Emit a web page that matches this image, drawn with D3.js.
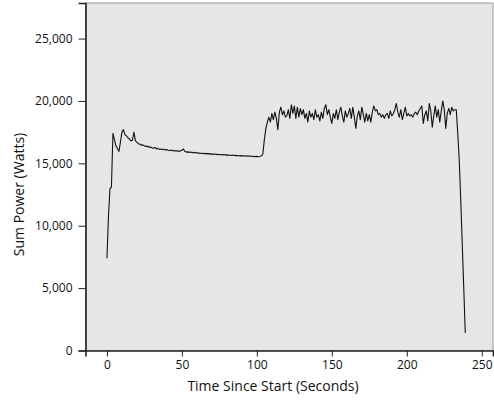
<!DOCTYPE html>
<html>
<head>
<meta charset="utf-8">
<script src="https://cdn.jsdelivr.net/npm/d3@7"></script>
<style>
  body { margin: 0; background: #fff; }
  svg text { font-family: 'Open Sans', sans-serif; fill: #111; }
</style>
</head>
<body>
<div id="root"></div>
<script>
// one reading per second, starting at 0 s
const power = [
  7400, 10700, 12950, 13100, 17400, 16900, 16400, 16200, 15950, 16700,
  17500, 17700, 17300, 17200, 17050, 16950, 16800, 16850, 17500, 16800,
  16700, 16550, 16550, 16450, 16480, 16400, 16350, 16380, 16280, 16320,
  16250, 16200, 16280, 16150, 16200, 16120, 16150, 16100, 16130, 16060,
  16100, 16050, 16020, 16070, 16000, 16030, 15980, 16010, 15960, 16000,
  16050, 16150, 15950, 15900, 15920, 15880, 15900, 15850, 15880, 15830,
  15860, 15800, 15830, 15790, 15810, 15770, 15800, 15760, 15780, 15740,
  15760, 15720, 15750, 15700, 15730, 15690, 15710, 15680, 15700, 15660,
  15680, 15650, 15670, 15630, 15660, 15620, 15640, 15610, 15630, 15600,
  15620, 15590, 15610, 15570, 15600, 15560, 15590, 15550, 15570, 15540,
  15560, 15530, 15550, 15600, 15750, 16900, 17800, 18300, 18700, 18300,
  19000, 18500, 19100, 18600, 17700, 19100, 19500, 18900, 19200, 18700,
  18800, 19300, 18600, 19700, 19000, 19600, 18600, 19500, 18700, 19400,
  18900, 19300, 18600, 19000, 18300, 19200, 18700, 19000, 18500, 19300,
  18700, 18900, 18400, 19100, 18600, 19400, 19700, 18900, 19300, 18700,
  18200, 19000, 18600, 19300, 18500, 19100, 19500, 18800, 18300, 19200,
  18700, 19000, 19400, 18600, 19500, 18700, 17800, 18800, 19200, 18500,
  19500, 18900, 18300, 19000, 18400, 18900, 18300, 19100, 19600, 19200,
  19300, 18900, 19000, 18700, 18900, 18600, 18900, 19000, 18600, 19200,
  18800, 19000, 19300, 19800, 19100, 18700, 19300, 18500, 19000, 19500,
  18800, 19000, 18800, 18900, 18700, 19000, 19100, 18900, 19200, 19400,
  19600, 18200, 18900, 19200, 18400, 19800, 19200, 17900, 18800, 19600,
  18700, 19300, 18300, 19200, 20000, 19300, 17800, 19000, 19400, 18900,
  19500, 19200, 19300, 19300, 17400, 15200, 12000, 8500, 5000, 1400
]
const xTicks = [0, 50, 100, 150, 200, 250]
const yTicks = [0, 5000, 10000, 15000, 20000, 25000]
const xTitle = 'Time Since Start (Seconds)'
const yTitle = 'Sum Power (Watts)'

const width = 494
const height = 400
const margin = { top: 3, right: 1, bottom: 49.5, left: 85.5 }
const innerW = width - margin.left - margin.right
const innerH = height - margin.top - margin.bottom

const data = power.map((v, i) => ({ t: i, w: v }))

const svg = d3.select('#root').append('svg')
  .attr('width', width)
  .attr('height', height)

const xScale = d3.scaleLinear().domain([-14.3, 257.5]).range([0, innerW])
const yScale = d3.scaleLinear().domain([0, 27850]).range([innerH, 0])

const bounds = svg.append('g')
  .attr('transform', `translate(${margin.left}, ${margin.top})`)

bounds.append('rect')
  .attr('width', innerW)
  .attr('height', innerH)
  .attr('fill', '#e6e6e6')
  .attr('stroke', '#9a9a9a')
  .attr('stroke-width', 1)

const line = d3.line()
  .x(d => xScale(d.t))
  .y(d => yScale(d.w))

bounds.append('path')
  .datum(data)
  .attr('fill', 'none')
  .attr('stroke', '#111')
  .attr('stroke-width', 1.1)
  .attr('stroke-linejoin', 'round')
  .attr('d', line)

const xAxis = bounds.append('g')
  .attr('transform', `translate(0, ${innerH})`)
  .call(d3.axisBottom(xScale).tickValues(xTicks).tickSize(6).tickPadding(4).tickFormat(d3.format('d')))
const yAxis = bounds.append('g')
  .call(d3.axisLeft(yScale).tickValues(yTicks).tickSize(7).tickPadding(6).tickFormat(d3.format(',')))

;[xAxis, yAxis].forEach(ax => {
  ax.select('.domain').attr('stroke', '#222').attr('stroke-width', 1.6)
  ax.selectAll('.tick line').attr('stroke', '#222')
  ax.selectAll('.tick text').attr('font-size', '12px').attr('font-family', 'Open Sans, sans-serif').attr('fill', '#111')
})

svg.append('text')
  .text(xTitle)
  .attr('x', 273)
  .attr('y', 391)
  .attr('text-anchor', 'middle')
  .attr('font-size', '14px')

svg.append('text')
  .text(yTitle)
  .attr('transform', `translate(24, 194.5) rotate(-90)`)
  .attr('text-anchor', 'middle')
  .attr('font-size', '14px')
</script>
</body>
</html>
